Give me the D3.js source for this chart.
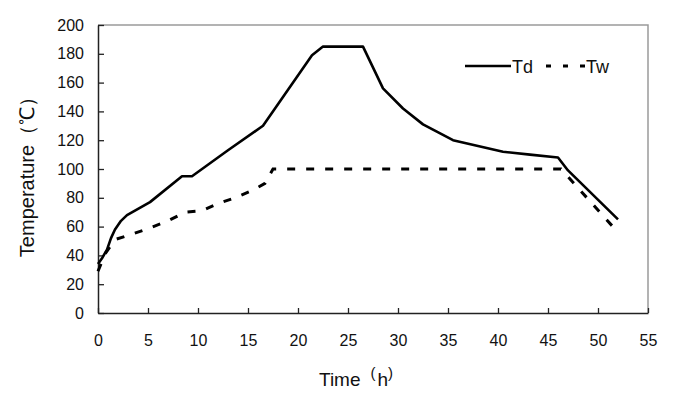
<!DOCTYPE html>
<html>
<head>
<meta charset="utf-8">
<script src="https://cdn.jsdelivr.net/npm/d3@7"></script>
<style>
  body { margin: 0; background: #fff; }
  text { font-family: "Liberation Sans", Arial, sans-serif; fill: #111; }
</style>
</head>
<body>
<div id="chart"></div>
<script>
// values
var tdTime = [0, 0.4, 0.9, 1.3, 1.7, 2.3, 2.9, 5.2, 8.4, 9.4, 13, 16.5, 21.4, 22.5, 26.5, 28.5, 30.5, 32.5, 35.5, 40.5, 43.2, 46, 47, 52];
var tdTemp = [34, 38, 44, 52, 58, 64, 68, 77, 95, 95, 113, 130, 179, 185, 185, 156, 142, 131, 120, 112, 110, 108, 99, 65];
var twTime = [0, 0.7, 1.7, 3.5, 5.2, 7, 8.7, 10.4, 12, 13.7, 15.4, 16.7, 17.5, 46.3, 52];
var twTemp = [29, 41, 51, 55, 59, 64, 70, 71, 76, 80, 85, 90, 100, 100, 56];
var xTicks = [0, 5, 10, 15, 20, 25, 30, 35, 40, 45, 50, 55];
var yTicks = [0, 20, 40, 60, 80, 100, 120, 140, 160, 180, 200];
var seriesNames = ["Td", "Tw"];

var width = 700,
  height = 397,
  margin = {top: 25, right: 52, bottom: 84, left: 98};
var w = width - margin.left - margin.right,
  h = height - margin.top - margin.bottom;

var x = d3.scaleLinear().domain([0, 55]).range([0, w]);
var y = d3.scaleLinear().domain([0, 200]).range([h, 0]);

var svg = d3.select("#chart")
  .append("svg")
  .attr("width", width)
  .attr("height", height)
  .append("g")
  .attr("transform", "translate(" + margin.left + "," + margin.top + ")");

// grey frame on top and right
svg.append("path")
  .attr("d", "M0,0H" + w + "V" + h)
  .attr("fill", "none")
  .attr("stroke", "#9a9a9a")
  .attr("stroke-width", 1.5);

var xAxis = svg.append("g")
  .attr("transform", "translate(0," + h + ")")
  .call(d3.axisBottom(x).tickValues(xTicks).tickSizeInner(-5).tickSizeOuter(0).tickPadding(22));
var yAxis = svg.append("g")
  .call(d3.axisLeft(y).tickValues(yTicks).tickSizeInner(-6).tickSizeOuter(0).tickPadding(14));

[xAxis, yAxis].forEach(function(a) {
  a.select(".domain").attr("stroke", "#222").attr("stroke-width", 1.5);
  a.selectAll(".tick line").attr("stroke", "#222").attr("stroke-width", 1.3);
  a.selectAll("text").style("font-size", "16px").style("fill", "#111");
});

var line = d3.line()
  .x(function(d) { return x(d[0]); })
  .y(function(d) { return y(d[1]); });

var td = d3.zip(tdTime, tdTemp);
var tw = d3.zip(twTime, twTemp);

svg.append("path")
  .datum(tw)
  .attr("d", line)
  .attr("fill", "none")
  .attr("stroke", "#000")
  .attr("stroke-width", 3)
  .attr("stroke-dasharray", "8,11");

svg.append("path")
  .datum(td)
  .attr("d", line)
  .attr("fill", "none")
  .attr("stroke", "#000")
  .attr("stroke-width", 2.6)
  .attr("stroke-linejoin", "round");

// legend
var legend = svg.append("g").attr("transform", "translate(367,41)");
legend.append("line")
  .attr("x1", 0).attr("x2", 46).attr("y1", 0).attr("y2", 0)
  .attr("stroke", "#000").attr("stroke-width", 2.6);
legend.append("text")
  .attr("x", 47).attr("y", 6.5)
  .style("font-size", "18px")
  .text(seriesNames[0]);
legend.append("line")
  .attr("x1", 81).attr("x2", 122).attr("y1", 0).attr("y2", 0)
  .attr("stroke", "#000").attr("stroke-width", 3)
  .attr("stroke-dasharray", "5,12");
legend.append("text")
  .attr("x", 121).attr("y", 6.5)
  .style("font-size", "18px")
  .text(seriesNames[1]);

// axis titles
svg.append("text")
  .attr("transform", "translate(-64,147) rotate(-90)")
  .attr("text-anchor", "middle")
  .style("font-size", "20px")
  .text("Temperature（℃）");

var xt = svg.append("text")
  .attr("x", 221)
  .attr("y", h + 73)
  .style("font-size", "19px");
xt.append("tspan").text("Time");
xt.append("tspan").attr("dx", 10).attr("dy", -8).style("font-size", "15px").text("(");
xt.append("tspan").attr("dx", 2).attr("dy", 8).text("h");
xt.append("tspan").attr("dy", -8).style("font-size", "15px").text(")");
</script>
</body>
</html>
